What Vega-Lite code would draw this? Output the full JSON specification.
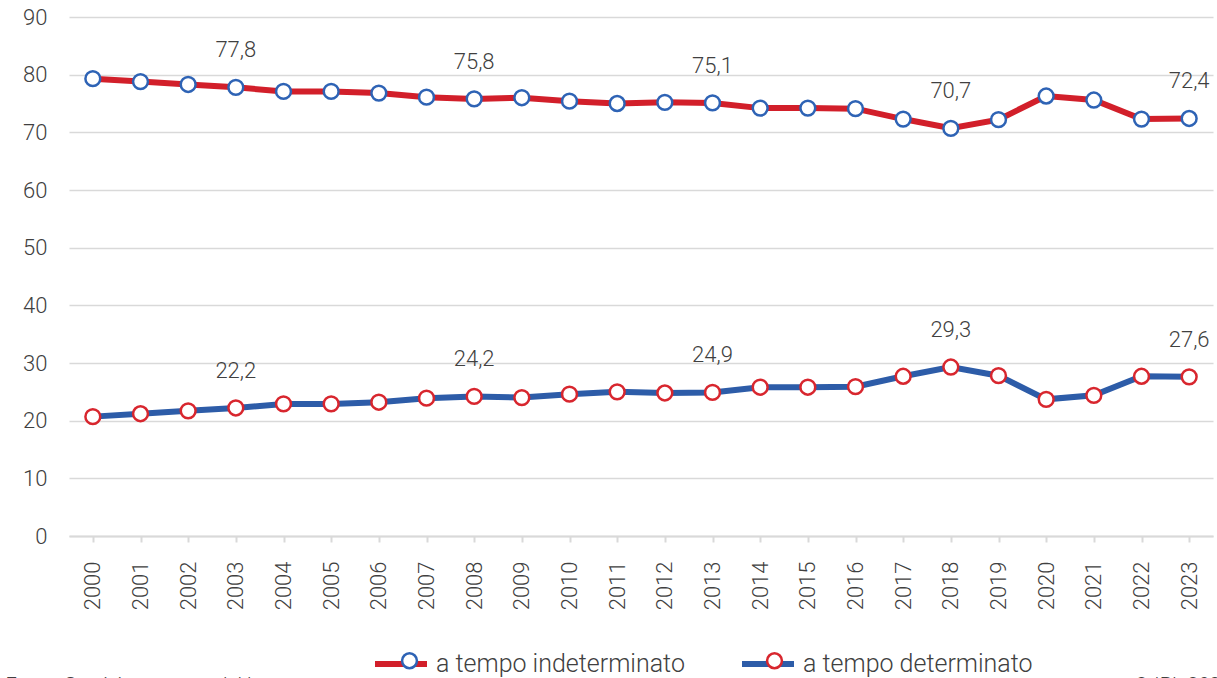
{
  "$schema": "https://vega.github.io/schema/vega-lite/v6.json",
  "width": 1144,
  "height": 519,
  "autosize": {"type": "none"},
  "padding": {"left": 69, "top": 17, "right": 4, "bottom": 142},
  "background": "white",
  "config": {
    "locale": {"number": {"decimal": ",", "thousands": ".", "grouping": [3], "currency": ["", " €"]}},
    "font": "Roboto",
    "view": {"stroke": null}
  },
  "data": {
    "values": [
      {"year": "2000", "serie": "a tempo indeterminato", "value": 79.3},
      {"year": "2001", "serie": "a tempo indeterminato", "value": 78.8},
      {"year": "2002", "serie": "a tempo indeterminato", "value": 78.3},
      {"year": "2003", "serie": "a tempo indeterminato", "value": 77.8},
      {"year": "2004", "serie": "a tempo indeterminato", "value": 77.1},
      {"year": "2005", "serie": "a tempo indeterminato", "value": 77.1},
      {"year": "2006", "serie": "a tempo indeterminato", "value": 76.8},
      {"year": "2007", "serie": "a tempo indeterminato", "value": 76.1},
      {"year": "2008", "serie": "a tempo indeterminato", "value": 75.8},
      {"year": "2009", "serie": "a tempo indeterminato", "value": 76.0},
      {"year": "2010", "serie": "a tempo indeterminato", "value": 75.4},
      {"year": "2011", "serie": "a tempo indeterminato", "value": 75.0},
      {"year": "2012", "serie": "a tempo indeterminato", "value": 75.2},
      {"year": "2013", "serie": "a tempo indeterminato", "value": 75.1},
      {"year": "2014", "serie": "a tempo indeterminato", "value": 74.2},
      {"year": "2015", "serie": "a tempo indeterminato", "value": 74.2},
      {"year": "2016", "serie": "a tempo indeterminato", "value": 74.1},
      {"year": "2017", "serie": "a tempo indeterminato", "value": 72.3},
      {"year": "2018", "serie": "a tempo indeterminato", "value": 70.7},
      {"year": "2019", "serie": "a tempo indeterminato", "value": 72.2},
      {"year": "2020", "serie": "a tempo indeterminato", "value": 76.3},
      {"year": "2021", "serie": "a tempo indeterminato", "value": 75.6},
      {"year": "2022", "serie": "a tempo indeterminato", "value": 72.3},
      {"year": "2023", "serie": "a tempo indeterminato", "value": 72.4},
      {"year": "2000", "serie": "a tempo determinato", "value": 20.7},
      {"year": "2001", "serie": "a tempo determinato", "value": 21.2},
      {"year": "2002", "serie": "a tempo determinato", "value": 21.7},
      {"year": "2003", "serie": "a tempo determinato", "value": 22.2},
      {"year": "2004", "serie": "a tempo determinato", "value": 22.9},
      {"year": "2005", "serie": "a tempo determinato", "value": 22.9},
      {"year": "2006", "serie": "a tempo determinato", "value": 23.2},
      {"year": "2007", "serie": "a tempo determinato", "value": 23.9},
      {"year": "2008", "serie": "a tempo determinato", "value": 24.2},
      {"year": "2009", "serie": "a tempo determinato", "value": 24.0},
      {"year": "2010", "serie": "a tempo determinato", "value": 24.6},
      {"year": "2011", "serie": "a tempo determinato", "value": 25.0},
      {"year": "2012", "serie": "a tempo determinato", "value": 24.8},
      {"year": "2013", "serie": "a tempo determinato", "value": 24.9},
      {"year": "2014", "serie": "a tempo determinato", "value": 25.8},
      {"year": "2015", "serie": "a tempo determinato", "value": 25.8},
      {"year": "2016", "serie": "a tempo determinato", "value": 25.9},
      {"year": "2017", "serie": "a tempo determinato", "value": 27.7},
      {"year": "2018", "serie": "a tempo determinato", "value": 29.3},
      {"year": "2019", "serie": "a tempo determinato", "value": 27.8},
      {"year": "2020", "serie": "a tempo determinato", "value": 23.7},
      {"year": "2021", "serie": "a tempo determinato", "value": 24.4},
      {"year": "2022", "serie": "a tempo determinato", "value": 27.7},
      {"year": "2023", "serie": "a tempo determinato", "value": 27.6}
    ]
  },
  "encoding": {
    "x": {
      "field": "year",
      "type": "ordinal",
      "sort": null,
      "scale": {"type": "point", "padding": 0.5},
      "axis": {
        "title": "© IPL 2024",
        "titleX": 1064,
        "titleY": 155,
        "titleAlign": "left",
        "titleAnchor": null,
        "titleAngle": 0,
        "titleBaseline": "alphabetic",
        "titleFontSize": 20,
        "titleFontWeight": 300,
        "titleColor": "#404040",
        "labelAngle": -90,
        "labelAlign": "right",
        "labelBaseline": "middle",
        "labelFontSize": 22,
        "labelFontWeight": 300,
        "labelColor": "#404040",
        "labelPadding": 19,
        "tickSize": 6,
        "tickColor": "#d9d9d9",
        "tickWidth": 2,
        "domainColor": "#d9d9d9",
        "domainWidth": 2,
        "grid": false
      }
    },
    "y": {
      "field": "value",
      "type": "quantitative",
      "scale": {"domain": [0, 90], "nice": false, "zero": true},
      "axis": {
        "values": [0, 10, 20, 30, 40, 50, 60, 70, 80, 90],
        "title": "Fonte: Servizio mercato del lavoro",
        "titleX": -64,
        "titleY": 674,
        "titleAlign": "left",
        "titleAngle": 0,
        "titleBaseline": "alphabetic",
        "titleFontSize": 20,
        "titleFontWeight": 300,
        "titleColor": "#404040",
        "domain": false,
        "ticks": false,
        "labelFontSize": 22,
        "labelFontWeight": 300,
        "labelColor": "#404040",
        "labelPadding": 22,
        "gridColor": "#d9d9d9",
        "gridWidth": 1.5
      }
    }
  },
  "layer": [
    {
      "mark": {"type": "line", "strokeWidth": 6},
      "encoding": {
        "color": {
          "field": "serie",
          "type": "nominal",
          "sort": ["a tempo indeterminato", "a tempo determinato"],
          "scale": {"range": ["#d21f2a", "#2d5ca8"]},
          "legend": {
            "title": null,
            "orient": "none",
            "direction": "horizontal",
            "legendX": 303,
            "legendY": 618,
            "symbolType": "stroke",
            "symbolStrokeWidth": 6,
            "symbolSize": 2704,
            "labelFontSize": 25,
            "labelFontWeight": 300,
            "labelColor": "#404040",
            "labelLimit": 500,
            "labelOffset": 6,
            "columnPadding": 45,
            "zindex": 1
          }
        }
      }
    },
    {
      "mark": {"type": "point", "shape": "circle", "filled": true, "fill": "white", "opacity": 1, "size": 220, "strokeWidth": 2.5},
      "encoding": {
        "stroke": {
          "field": "serie",
          "type": "nominal",
          "scale": {"domain": ["a tempo indeterminato", "a tempo determinato"], "range": ["#2e63b5", "#d8262e"]},
          "legend": {
            "title": null,
            "orient": "none",
            "direction": "horizontal",
            "legendX": 328,
            "legendY": 631,
            "symbolType": "circle",
            "symbolSize": 220,
            "symbolStrokeWidth": 2.5,
            "symbolFillColor": "white",
            "labelFontSize": 25,
            "labelFontWeight": 300,
            "labelOpacity": 0,
            "labelLimit": 500,
            "labelOffset": 46,
            "columnPadding": 45,
            "zindex": 2
          }
        }
      }
    },
    {
      "transform": [{"filter": {"field": "year", "oneOf": ["2003", "2008", "2013", "2018", "2023"]}}],
      "mark": {"type": "text", "dy": -37, "fontSize": 22, "fontWeight": 300, "color": "#404040", "align": "center", "baseline": "middle"},
      "encoding": {
        "text": {"field": "value", "type": "quantitative", "format": ".1f"}
      }
    }
  ]
}
